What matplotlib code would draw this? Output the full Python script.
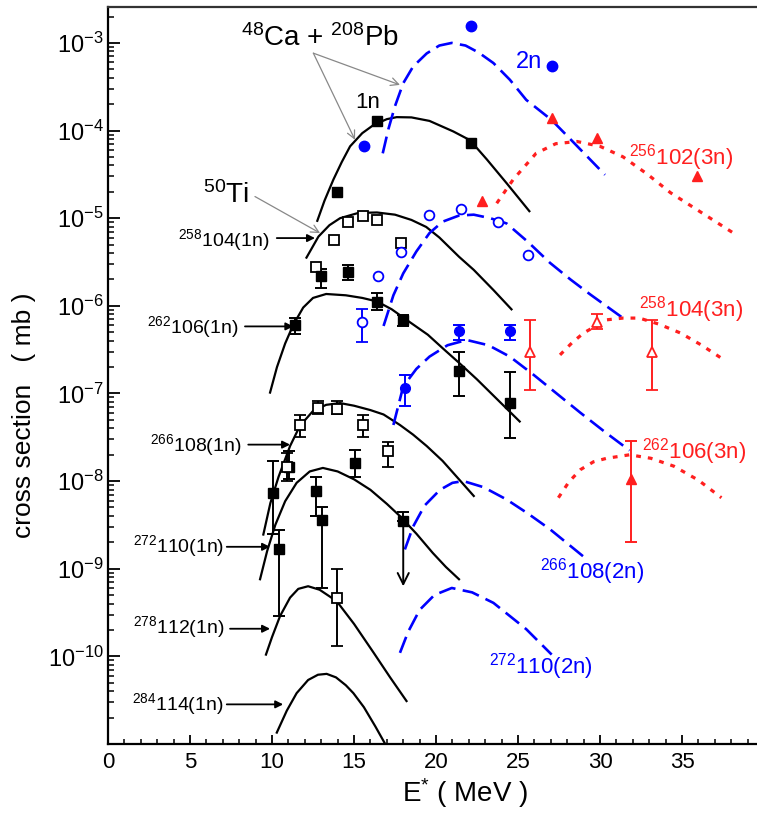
import numpy as np
import matplotlib
matplotlib.use("Agg")
import matplotlib.pyplot as plt
from matplotlib.ticker import MultipleLocator, FixedLocator, LogLocator, LogFormatterMathtext

plt.rcParams['font.family'] = ['Liberation Sans', 'DejaVu Sans']
plt.rcParams['mathtext.default'] = 'regular'

BLUE = '#0000ff'
RED = '#ff1f1f'

# ---- model curves: E* (MeV) and log10(sigma / mb) ----
# 48Ca + 208Pb
ca1n_E = [12.76, 13.2, 13.74, 14.25, 14.76, 15.5, 16.2, 17.0, 17.6, 18.5, 19.6, 21.05, 22.07, 23.1, 24.3, 25.69]
ca1n_lg = [-5.03, -4.80, -4.56, -4.36, -4.18, -4.03, -3.935, -3.87, -3.847, -3.85, -3.89, -4.01, -4.11, -4.33, -4.60, -4.92]
ca2n_E = [16.75, 17.1, 17.5, 18.0, 18.6, 19.43, 20.2, 20.96, 21.8, 22.6, 23.5, 24.5, 25.5, 27.05, 28.2, 30.3]
ca2n_lg = [-4.26, -3.98, -3.72, -3.46, -3.27, -3.12, -3.03, -3.0, -3.03, -3.11, -3.23, -3.42, -3.65, -3.88, -4.10, -4.505]
ca3n_E = [23.7, 24.7, 26.1, 27.3, 28.6, 30.0, 31.4, 32.9, 34.3, 36.3, 38.3]
ca3n_lg = [-4.83, -4.56, -4.26, -4.15, -4.125, -4.18, -4.30, -4.50, -4.71, -4.95, -5.19]

# 50Ti + 208Pb
ti1n_E = [12.1, 12.83, 13.5, 14.15, 15.26, 16.4, 17.5, 18.5, 19.4, 20.2, 21.4, 22.3, 23.5, 24.6]
ti1n_lg = [-5.45, -5.21, -5.08, -5.0, -4.94, -4.935, -4.96, -5.02, -5.10, -5.22, -5.44, -5.59, -5.82, -6.04]
ti2n_E = [16.8, 17.4, 18.0, 18.8, 19.6, 20.4, 21.4, 22.3, 23.3, 24.3, 25.6, 26.95, 28.2, 29.4, 31.4]
ti2n_lg = [-6.23, -5.88, -5.63, -5.38, -5.17, -5.04, -4.97, -4.96, -5.0, -5.06, -5.27, -5.51, -5.70, -5.87, -6.14]
ti3n_E = [27.56, 28.3, 29.0, 30.4, 31.4, 32.4, 33.6, 34.9, 36.2, 37.5]
ti3n_lg = [-6.56, -6.42, -6.31, -6.16, -6.14, -6.14, -6.21, -6.31, -6.45, -6.61]

# 54Cr + 208Pb
cr1n_E = [9.88, 10.3, 10.8, 11.3, 11.9, 12.5, 13.3, 14.5, 15.5, 16.4, 17.3, 18.2, 19.5, 20.5, 21.4, 22.5, 23.8, 25.1]
cr1n_lg = [-6.99, -6.70, -6.43, -6.215, -6.02, -5.91, -5.865, -5.88, -5.91, -5.95, -6.04, -6.16, -6.33, -6.50, -6.65, -6.84, -7.08, -7.32]
cr2n_E = [17.4, 18.0, 18.8, 19.6, 20.7, 21.87, 23.2, 24.5, 25.9, 27.35, 28.8, 30.3, 31.8]
cr2n_lg = [-7.36, -6.92, -6.72, -6.58, -6.45, -6.39, -6.45, -6.58, -6.78, -7.0, -7.22, -7.44, -7.65]
cr3n_E = [27.46, 28.1, 28.8, 29.6, 30.4, 31.8, 33.1, 34.5, 36.0, 37.4]
cr3n_lg = [-8.19, -8.01, -7.87, -7.78, -7.74, -7.70, -7.74, -7.83, -7.99, -8.19]

# 58Fe + 208Pb
fe1n_E = [9.47, 9.9, 10.4, 11.1, 11.7, 12.5, 13.3, 14.15, 15.0, 16.0, 16.8, 17.8, 18.6, 19.43, 20.4, 21.4, 22.3]
fe1n_lg = [-8.61, -8.25, -7.95, -7.60, -7.37, -7.20, -7.13, -7.11, -7.14, -7.19, -7.24, -7.36, -7.47, -7.60, -7.77, -7.98, -8.17]
fe2n_E = [18.1, 18.6, 19.3, 20.24, 21.0, 21.67, 22.9, 24.3, 25.6, 26.95, 28.98]
fe2n_lg = [-8.78, -8.52, -8.28, -8.10, -8.02, -8.0, -8.07, -8.21, -8.37, -8.55, -8.86]

# 64Ni + 208Pb
ni1n_E = [9.27, 9.7, 10.2, 10.8, 11.5, 12.3, 13.1, 14.0, 15.0, 16.0, 17.0, 17.8, 18.8, 19.8, 20.6, 21.4]
ni1n_lg = [-9.12, -8.80, -8.50, -8.23, -8.02, -7.89, -7.85, -7.89, -7.98, -8.10, -8.26, -8.40, -8.60, -8.82, -8.98, -9.12]
ni2n_E = [17.8, 18.3, 19.0, 19.9, 20.96, 22.2, 23.5, 25.5, 27.05]
ni2n_lg = [-9.96, -9.72, -9.47, -9.30, -9.22, -9.27, -9.39, -9.69, -9.98]

# 70Zn + 208Pb
zn1n_E = [9.63, 10.0, 10.49, 11.1, 11.6, 12.2, 12.9, 13.94, 15.0, 16.2, 17.2, 18.2]
zn1n_lg = [-9.98, -9.78, -9.54, -9.33, -9.23, -9.20, -9.24, -9.37, -9.63, -9.96, -10.24, -10.51]

# 76Ge + 208Pb
ge1n_E = [10.29, 10.9, 11.5, 12.2, 12.8, 13.33, 13.9, 14.5, 14.96, 15.6, 16.3, 16.9]
ge1n_lg = [-10.87, -10.62, -10.42, -10.27, -10.21, -10.20, -10.24, -10.33, -10.42, -10.58, -10.80, -11.0]

# ---- measured cross sections (mb) ----
ca1n_xE = [13.98, 16.42, 22.13]
ca1n_xs = [2.0e-5, 1.3e-4, 7.3e-5]
ca2n_xE = [15.63, 22.13, 27.05]
ca2n_xs = [6.7e-5, 1.56e-3, 5.4e-4]
ca3n_xE = [22.78, 27.05, 29.84, 35.9]
ca3n_xs = [1.58e-5, 1.38e-4, 8.2e-5, 3.0e-5]

ti1n_xE = [12.68, 13.8, 14.65, 15.53, 16.38, 17.87]
ti1n_xs = [2.75e-6, 5.7e-6, 9.0e-6, 1.05e-5, 9.6e-6, 5.2e-6]
ti2n_xE = [16.44, 17.87, 19.6, 21.5, 23.76, 25.6]
ti2n_xs = [2.2e-6, 4.1e-6, 1.1e-5, 1.26e-5, 9.1e-6, 3.8e-6]
ti2n_eE = [15.47]
ti2n_es = [6.6e-7]
ti2n_elo = [3.9e-7]
ti2n_ehi = [9.3e-7]
ti3n_xE = [25.7, 29.8, 33.15]
ti3n_xs = [3.0e-7, 6.6e-7, 3.0e-7]
ti3n_lo = [1.1e-7, 5.5e-7, 1.1e-7]
ti3n_hi = [6.9e-7, 8.1e-7, 6.9e-7]

cr1n_xE = [11.4, 12.99, 14.65, 16.38, 18.0, 21.37, 24.5]
cr1n_xs = [6.1e-7, 2.2e-6, 2.4e-6, 1.12e-6, 6.9e-7, 1.8e-7, 7.7e-8]
cr1n_lo = [4.8e-7, 1.6e-6, 1.95e-6, 8.9e-7, 5.9e-7, 9.3e-8, 3.1e-8]
cr1n_hi = [7.2e-7, 2.6e-6, 2.9e-6, 1.41e-6, 7.9e-7, 2.95e-7, 1.74e-7]
cr2n_xE = [18.1, 21.42, 24.5]
cr2n_xs = [1.14e-7, 5.1e-7, 5.1e-7]
cr2n_lo = [7.1e-8, 4.1e-7, 4.1e-7]
cr2n_hi = [1.62e-7, 6.1e-7, 6.1e-7]
cr3n_xE = [31.9]
cr3n_xs = [1.05e-8]
cr3n_lo = [2.0e-9]
cr3n_hi = [2.9e-8]

fe1n_xE = [10.9, 11.7, 12.83, 13.94, 15.53, 17.1]
fe1n_xs = [1.45e-8, 4.4e-8, 6.8e-8, 6.6e-8, 4.4e-8, 2.2e-8]
fe1n_lo = [1.0e-8, 3.2e-8, 5.8e-8, 5.8e-8, 3.2e-8, 1.45e-8]
fe1n_hi = [2.1e-8, 5.7e-8, 8.1e-8, 8.3e-8, 5.7e-8, 2.8e-8]

ni1n_xE = [10.04, 10.45, 11.06, 12.68, 13.03, 15.06]
ni1n_xs = [7.3e-9, 1.7e-9, 1.45e-8, 7.7e-9, 3.6e-9, 1.6e-8]
ni1n_lo = [2.5e-9, 2.9e-10, 1.05e-8, 4.0e-9, 6.0e-10, 1.1e-8]
ni1n_hi = [1.7e-8, 2.8e-9, 2.2e-8, 1.12e-8, 5.0e-9, 2.25e-8]
ni1n_limE = 18.0
ni1n_lim = 3.5e-9
ni1n_limhi = 4.4e-9
ni1n_limend = 6.3e-10

zn1n_xE = [13.94]
zn1n_xs = [4.6e-10]
zn1n_lo = [1.3e-10]
zn1n_hi = [1.0e-9]


def lg(v):
    return 10 ** np.asarray(v)


def errs(s, lo, hi):
    s = np.asarray(s)
    return [s - np.asarray(lo), np.asarray(hi) - s]


fig = plt.figure(figsize=(7.57, 8.13), dpi=100)
ax = fig.add_axes([0.1427, 0.0849, 0.8573, 0.9065])
ax.set_yscale('log')
ax.set_xlim(0, 39.57)
ax.set_ylim(1e-11, 2.57e-3)

solid = dict(color='k', lw=1.6, zorder=2)
dash = dict(color=BLUE, lw=1.9, ls=(0, (6.5, 2.8)), zorder=2)
dot = dict(color=RED, lw=2.3, ls=(0, (1.5, 2.2)), zorder=2)

for E, v in [(ca1n_E, ca1n_lg), (ti1n_E, ti1n_lg), (cr1n_E, cr1n_lg), (fe1n_E, fe1n_lg),
             (ni1n_E, ni1n_lg), (zn1n_E, zn1n_lg), (ge1n_E, ge1n_lg)]:
    ax.plot(E, lg(v), **solid)
for E, v in [(ca2n_E, ca2n_lg), (ti2n_E, ti2n_lg), (cr2n_E, cr2n_lg), (fe2n_E, fe2n_lg), (ni2n_E, ni2n_lg)]:
    ax.plot(E, lg(v), **dash)
for E, v in [(ca3n_E, ca3n_lg), (ti3n_E, ti3n_lg), (cr3n_E, cr3n_lg)]:
    ax.plot(E, lg(v), **dot)

eb = dict(capsize=4, elinewidth=1.4, capthick=1.4, ms=7, ls='none', zorder=4)

# filled black squares
ax.plot(ca1n_xE, ca1n_xs, 's', color='k', ms=7, zorder=4)
ax.errorbar(cr1n_xE, cr1n_xs, yerr=errs(cr1n_xs, cr1n_lo, cr1n_hi), fmt='s', color='k', **eb)
ax.errorbar(ni1n_xE, ni1n_xs, yerr=errs(ni1n_xs, ni1n_lo, ni1n_hi), fmt='s', color='k', **eb)
ax.errorbar([ni1n_limE], [ni1n_lim], yerr=[[0], [ni1n_limhi - ni1n_lim]], fmt='s', color='k', **eb)
ax.annotate('', xy=(ni1n_limE, ni1n_limend), xytext=(ni1n_limE, ni1n_lim),
            arrowprops=dict(arrowstyle='->', color='k', lw=1.4, mutation_scale=20, shrinkA=0, shrinkB=0))

# open black squares
ax.plot(ti1n_xE, ti1n_xs, 's', mfc='white', mec='k', mew=1.3, ms=7, zorder=4)
ax.errorbar(fe1n_xE, fe1n_xs, yerr=errs(fe1n_xs, fe1n_lo, fe1n_hi), fmt='s', color='k',
            mfc='white', mec='k', mew=1.3, **eb)
ax.errorbar(zn1n_xE, zn1n_xs, yerr=errs(zn1n_xs, zn1n_lo, zn1n_hi), fmt='s', color='k',
            mfc='white', mec='k', mew=1.3, **eb)

# blue circles
ax.plot(ca2n_xE, ca2n_xs, 'o', color=BLUE, ms=7.5, zorder=4)
ax.errorbar(cr2n_xE, cr2n_xs, yerr=errs(cr2n_xs, cr2n_lo, cr2n_hi), fmt='o', color=BLUE, **eb)
ax.plot(ti2n_xE, ti2n_xs, 'o', mfc='white', mec=BLUE, mew=1.3, ms=7, zorder=4)
ax.errorbar(ti2n_eE, ti2n_es, yerr=errs(ti2n_es, ti2n_elo, ti2n_ehi), fmt='o', color=BLUE,
            mfc='white', mec=BLUE, mew=1.3, **eb)

# red triangles
ax.plot(ca3n_xE, ca3n_xs, '^', color=RED, ms=7.5, zorder=4)
ax.errorbar(ti3n_xE, ti3n_xs, yerr=errs(ti3n_xs, ti3n_lo, ti3n_hi), fmt='^', color=RED,
            mfc='white', mec=RED, mew=1.3, **eb)
ax.errorbar(cr3n_xE, cr3n_xs, yerr=errs(cr3n_xs, cr3n_lo, cr3n_hi), fmt='^', color=RED, **eb)

# labels
ax.text(12.93, 1.14e-3, r'$^{48}$Ca + $^{208}$Pb', fontsize=20, ha='center', va='center')
ax.text(15.82, 2.07e-4, '1n', fontsize=16, ha='center', va='center')
ax.text(25.64, 6.07e-4, '2n', fontsize=17, ha='center', va='center', color=BLUE)
ax.text(7.2, 1.85e-5, r'$^{50}$Ti', fontsize=20, ha='center', va='center')

grey = dict(arrowstyle='->', color='#888888', lw=0.9, mutation_scale=14, shrinkA=0, shrinkB=0)
ax.annotate('', xy=(15.06, 10 ** -4.106), xytext=(12.52, 10 ** -3.117), arrowprops=grey)
ax.annotate('', xy=(17.8, 10 ** -3.479), xytext=(12.52, 10 ** -3.117), arrowprops=grey)
ax.annotate('', xy=(12.93, 10 ** -5.17), xytext=(8.96, 10 ** -4.753), arrowprops=grey)

blk = dict(arrowstyle='-|>', color='k', lw=1.3, mutation_scale=11, shrinkA=0, shrinkB=0)
left_labels = [
    (r'$^{258}$104(1n)', 7.03, 10 ** -5.246, 10.29, 12.62, 10 ** -5.227),
    (r'$^{262}$106(1n)', 5.18, 10 ** -6.238, 8.35, 11.3, 10 ** -6.235),
    (r'$^{266}$108(1n)', 5.37, 10 ** -7.584, 8.55, 11.1, 10 ** -7.584),
    (r'$^{272}$110(1n)', 4.33, 10 ** -8.747, 7.24, 9.88, 10 ** -8.75),
    (r'$^{278}$112(1n)', 4.33, 10 ** -9.67, 7.44, 9.88, 10 ** -9.685),
    (r'$^{284}$114(1n)', 4.27, 10 ** -10.548, 7.24, 10.68, 10 ** -10.548),
]
for txt, tx, ty, a0, a1, ay in left_labels:
    ax.text(tx, ty, txt, fontsize=14, ha='center', va='center')
    ax.annotate('', xy=(a1, ay), xytext=(a0, ay), arrowprops=blk)

ax.text(34.94, 4.89e-5, r'$^{256}$102(3n)', fontsize=16, ha='center', va='center', color=RED)
ax.text(35.55, 9.0e-7, r'$^{258}$104(3n)', fontsize=16, ha='center', va='center', color=RED)
ax.text(35.73, 2.17e-8, r'$^{262}$106(3n)', fontsize=16, ha='center', va='center', color=RED)
ax.text(29.51, 9.3e-10, r'$^{266}$108(2n)', fontsize=16, ha='center', va='center', color=BLUE)
ax.text(26.4, 7.7e-11, r'$^{272}$110(2n)', fontsize=16, ha='center', va='center', color=BLUE)

# axes styling
ax.xaxis.set_major_locator(MultipleLocator(5))
ax.xaxis.set_minor_locator(MultipleLocator(1))
ax.yaxis.set_major_locator(FixedLocator(10.0 ** np.arange(-10, -2)))
ax.yaxis.set_major_formatter(LogFormatterMathtext())
ax.yaxis.set_minor_locator(LogLocator(base=10, subs=np.arange(2, 10), numticks=30))
ax.tick_params(axis='x', which='major', direction='in', length=6.5, width=1.3, labelsize=16, pad=6)
ax.tick_params(axis='x', which='minor', direction='in', length=3.5, width=1.1)
ax.tick_params(axis='y', which='major', direction='in', length=8.5, width=1.3, labelsize=17, pad=3)
ax.tick_params(axis='y', which='minor', direction='in', length=4.5, width=1.1)
ax.tick_params(top=False, right=False, which='both')
ax.spines['right'].set_visible(False)
for s in ['left', 'bottom', 'top']:
    ax.spines[s].set_linewidth(1.6)
ax.spines['top'].set_color('#333333')

fig.text(24 / 757, 1 - 415 / 813, 'cross section   ( mb )', rotation=90, fontsize=19,
         ha='center', va='center')
fig.text(465 / 757, 1 - 793 / 813, r'E$^{*}$ ( MeV )', fontsize=20, ha='center', va='center')

fig.savefig('out.png', dpi=100)
